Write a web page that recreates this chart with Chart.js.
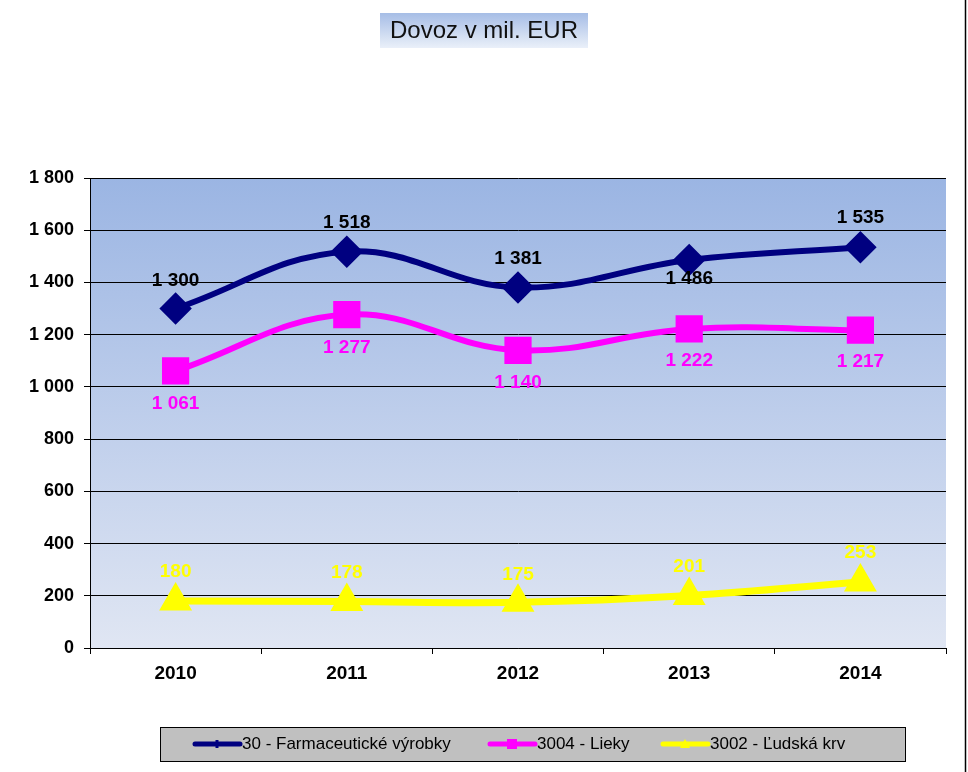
<!DOCTYPE html>
<html>
<head>
<meta charset="utf-8">
<script src="https://cdn.jsdelivr.net/npm/chart.js@4/dist/chart.umd.min.js"></script>
<style>
  html, body { margin: 0; padding: 0; background: #fff; }
  #wrap { width: 968px; height: 772px; position: relative; }
</style>
</head>
<body>
<div id="wrap"><canvas id="chart" width="968" height="772"></canvas></div>
<script>
// données
const years = ['2010', '2011', '2012', '2013', '2014'];
const farma = [1300, 1518, 1381, 1486, 1535];
const lieky = [1061, 1277, 1140, 1222, 1217];
const krv = [180, 178, 175, 201, 253];
const seriesNames = ['30 - Farmaceutické výrobky', '3004 - Lieky', '3002 - Ľudská krv'];
const titleText = 'Dovoz v mil. EUR';

// décalage vertical des étiquettes (px)
const farmaLabelDy = [-28, -29, -29, 19, -29];
const liekyLabelDy = [33, 33, 32, 32, 32];
const krvLabelDy = [-29, -29, -28, -29, -29];

const fmt = v => String(v).replace(/\B(?=(\d{3})+(?!\d))/g, ' ');
const FONT = 'Arial, "Liberation Sans", sans-serif';

const decor = {
    id: 'decor',
    beforeDraw(chart) {
        const c = chart.ctx;
        const a = chart.chartArea;
        c.save();
        c.fillStyle = '#fff';
        c.fillRect(0, 0, chart.width, chart.height);
        const g = c.createLinearGradient(0, a.top, 0, a.bottom);
        g.addColorStop(0, '#9bb5e3');
        g.addColorStop(1, '#e0e6f3');
        c.fillStyle = g;
        c.fillRect(a.left, a.top, a.right - a.left, a.bottom - a.top);
        c.restore();
    },
    afterDatasetsDraw(chart) {
        const c = chart.ctx;
        const offsets = [farmaLabelDy, liekyLabelDy, krvLabelDy];
        const colors = ['#000000', '#ff00ff', '#ffff00'];
        c.save();
        c.font = 'bold 19px ' + FONT;
        c.textAlign = 'center';
        c.textBaseline = 'middle';
        chart.data.datasets.forEach((ds, i) => {
            const meta = chart.getDatasetMeta(i);
            meta.data.forEach((pt, j) => {
                c.fillStyle = colors[i];
                c.fillText(fmt(ds.data[j]), pt.x, pt.y + offsets[i][j]);
            });
        });
        c.restore();
    },
    afterDraw(chart) {
        const c = chart.ctx;
        c.save();
        // titre
        const tg = c.createLinearGradient(0, 13, 0, 48);
        tg.addColorStop(0, '#a6bde6');
        tg.addColorStop(1, '#eaf0f9');
        c.fillStyle = tg;
        c.fillRect(380, 13, 208, 35);
        c.fillStyle = '#111';
        c.font = '24px ' + FONT;
        c.textAlign = 'center';
        c.textBaseline = 'middle';
        c.fillText(titleText, 484, 31);

        // bordure droite
        c.strokeStyle = '#000';
        c.lineWidth = 1.5;
        c.beginPath();
        c.moveTo(965.5, 0);
        c.lineTo(965.5, 772);
        c.stroke();

        // légende
        c.fillStyle = '#c0c0c0';
        c.fillRect(160, 727, 745, 34);
        c.lineWidth = 1;
        c.strokeStyle = '#000';
        c.strokeRect(160.5, 727.5, 745, 34);
        const items = [
            { x: 195, color: '#000080', style: 'rectRot' },
            { x: 490, color: '#ff00ff', style: 'rect' },
            { x: 663, color: '#ffff00', style: 'triangle' }
        ];
        c.font = '17px ' + FONT;
        c.textAlign = 'left';
        items.forEach((it, i) => {
            const y = 744;
            c.strokeStyle = it.color;
            c.lineWidth = 5;
            c.lineCap = 'round';
            c.beginPath();
            c.moveTo(it.x, y);
            c.lineTo(it.x + 45, y);
            c.stroke();
            c.fillStyle = it.color;
            const mx = it.x + 22;
            if (it.style === 'rectRot') {
                c.fillRect(mx - 1.5, y - 4, 3, 8);
            } else if (it.style === 'rect') {
                c.fillRect(mx - 5, y - 5, 10, 10);
            } else {
                c.beginPath();
                c.moveTo(mx, y - 5);
                c.lineTo(mx + 5, y + 4);
                c.lineTo(mx - 5, y + 4);
                c.closePath();
                c.fill();
            }
            c.fillStyle = '#000';
            c.textBaseline = 'middle';
            c.fillText(seriesNames[i], it.x + 47, y);
        });
        c.restore();
    }
};

const ctx = document.getElementById('chart').getContext('2d');
const dovozChart = new Chart(ctx, {
    type: 'line',
    data: {
        labels: years,
        datasets: [{
            label: seriesNames[0],
            data: farma,
            borderColor: '#000080',
            backgroundColor: '#000080',
            borderWidth: 6,
            tension: 0.4,
            pointStyle: 'rectRot',
            pointRadius: 12,
            pointHoverRadius: 12
        }, {
            label: seriesNames[1],
            data: lieky,
            borderColor: '#ff00ff',
            backgroundColor: '#ff00ff',
            borderWidth: 6,
            tension: 0.4,
            pointStyle: 'rect',
            pointRadius: 15,
            pointHoverRadius: 15
        }, {
            label: seriesNames[2],
            data: krv,
            borderColor: '#ffff00',
            backgroundColor: '#ffff00',
            borderWidth: 7,
            tension: 0.4,
            pointStyle: 'triangle',
            pointRadius: 12,
            pointHoverRadius: 12
        }]
    },
    options: {
        responsive: false,
        animation: false,
        layout: { padding: { top: 178, right: 22, bottom: 0, left: 0 } },
        plugins: {
            legend: { display: false },
            tooltip: { enabled: false }
        },
        scales: {
            x: {
                offset: true,
                grid: { display: true, offset: true, drawOnChartArea: false, color: '#000', tickLength: 6 },
                border: { display: true, color: '#000', width: 1 },
                ticks: { color: '#000', font: { family: FONT, size: 19, weight: 'bold' }, padding: 8 },
                afterFit(scale) { scale.height = 124; }
            },
            y: {
                min: 0,
                max: 1800,
                ticks: {
                    stepSize: 200,
                    color: '#000',
                    padding: 10,
                    font: { family: FONT, size: 18, weight: 'bold' },
                    callback: v => fmt(v)
                },
                grid: { color: '#000', lineWidth: 1, tickLength: 6 },
                border: { display: true, color: '#000', width: 1 },
                afterFit(scale) { scale.width = 90; }
            }
        }
    },
    plugins: [decor]
});
</script>
</body>
</html>
